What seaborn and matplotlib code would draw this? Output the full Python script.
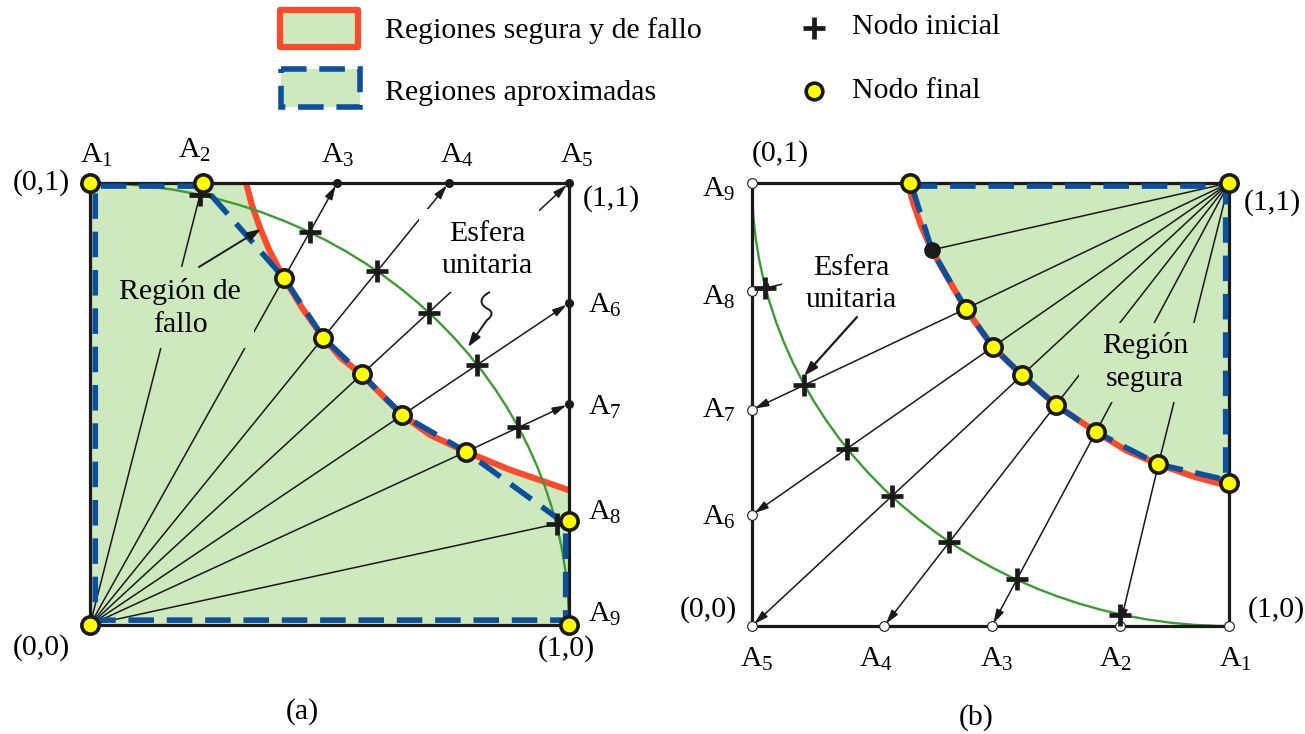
import matplotlib
matplotlib.use("Agg")
import matplotlib.pyplot as plt
from matplotlib.patches import Polygon, Rectangle, Arc, PathPatch
from matplotlib.path import Path
import seaborn as sns

sns.set_theme(style="white")
plt.rcParams["font.family"] = ["Liberation Serif", "DejaVu Serif"]
plt.rcParams["mathtext.fontset"] = "custom"
plt.rcParams["mathtext.rm"] = "Liberation Serif"
plt.rcParams["mathtext.it"] = "Liberation Serif:italic"

# ---------------- panel (a): failure region around the origin ----------------
a_target_u = [0.0, 0.236, 0.516, 0.749, 1.0, 1.0, 1.0, 1.0, 1.0]
a_target_v = [1.0, 1.0, 1.0, 1.0, 1.0, 0.728, 0.500, 0.235, 0.0]
a_final_u = [0.0, 0.236, 0.405, 0.487, 0.567, 0.652, 0.785, 1.0, 1.0]
a_final_v = [1.0, 1.0, 0.785, 0.650, 0.567, 0.475, 0.392, 0.235, 0.0]
a_has_arrow = [False, False, True, True, True, True, True, False, False]
a_init_u = [0.230, 0.459, 0.600, 0.707, 0.808, 0.894, 0.974]
a_init_v = [0.973, 0.889, 0.800, 0.707, 0.588, 0.447, 0.229]
a_limit_u = [0.326, 0.338, 0.355, 0.376, 0.405, 0.443, 0.487, 0.524, 0.567,
             0.608, 0.652, 0.710, 0.785, 0.877, 1.0]
a_limit_v = [1.0, 0.950, 0.898, 0.844, 0.785, 0.717, 0.650, 0.604, 0.567,
             0.522, 0.475, 0.430, 0.392, 0.351, 0.305]
a_approx_u = [0.236, 0.011, 0.011, 0.993, 0.993, 0.973, 0.785, 0.652, 0.567,
              0.487, 0.405, 0.236]
a_approx_v = [0.993, 0.993, 0.011, 0.011, 0.225, 0.244, 0.392, 0.475, 0.567,
              0.650, 0.785, 0.993]
a_labels = ["A$_{1}$", "A$_{2}$", "A$_{3}$", "A$_{4}$", "A$_{5}$",
            "A$_{6}$", "A$_{7}$", "A$_{8}$", "A$_{9}$"]

# ---------------- panel (b): safe region around the corner (1,1) --------------
b_target_u = [1.0, 0.771, 0.503, 0.277, 0.0, 0.0, 0.0, 0.0, 0.0]
b_target_v = [0.0, 0.0, 0.0, 0.0, 0.0, 0.251, 0.488, 0.756, 1.0]
b_final_u = [1.0, 0.852, 0.721, 0.637, 0.566, 0.505, 0.448, 0.377, 0.331]
b_final_v = [0.323, 0.365, 0.438, 0.499, 0.566, 0.630, 0.716, 0.849, 1.0]
b_final_yellow = [True, True, True, True, True, True, True, False, True]
b_has_arrow = [False, True, True, True, True, True, True, True, False]
b_init_u = [0.772, 0.555, 0.414, 0.293, 0.200, 0.110, 0.027]
b_init_v = [0.025, 0.105, 0.190, 0.293, 0.400, 0.544, 0.763]
b_limit_u = [0.327, 0.338, 0.354, 0.377, 0.410, 0.448, 0.505, 0.566, 0.637,
             0.721, 0.785, 0.852, 0.930, 1.0]
b_limit_v = [1.0, 0.955, 0.905, 0.849, 0.786, 0.716, 0.630, 0.566, 0.499,
             0.438, 0.396, 0.365, 0.336, 0.316]
b_approx_u = [0.335, 0.993, 0.993, 0.852, 0.721, 0.637, 0.566, 0.505, 0.448,
              0.377, 0.335]
b_approx_v = [0.993, 0.993, 0.330, 0.365, 0.438, 0.499, 0.566, 0.630, 0.716,
              0.849, 0.993]
b_labels = ["A$_{1}$", "A$_{2}$", "A$_{3}$", "A$_{4}$", "A$_{5}$",
            "A$_{6}$", "A$_{7}$", "A$_{8}$", "A$_{9}$"]

FILL = "#cde9bd"
RED = "#fc4a2c"
BLUE = "#0c4f9d"
SPHERE = "#3d9b33"
YELLOW = "#ffff00"
INK = "black"
FS = 21.5
LW_RAY = 1.1

W, H = 1305, 734
fig = plt.figure(figsize=(W / 100, H / 100), dpi=100)
fig.patch.set_facecolor("white")
axA = fig.add_axes([90 / W, 109 / H, 479 / W, 442 / H])
axB = fig.add_axes([752 / W, 108 / H, 477 / W, 443 / H])
for ax in (axA, axB):
    ax.set_xlim(0, 1)
    ax.set_ylim(0, 1)
    ax.axis("off")


def pix_a(x, y):
    return (x - 90) / 479, (625 - y) / 442


def pix_b(x, y):
    return (x - 752) / 477, (626 - y) / 443


def rays(ax, pole, fu, fv, tu, tv, arrows):
    for x1, y1, x2, y2, arr in zip(fu, fv, tu, tv, arrows):
        ax.plot([pole[0], x1], [pole[1], y1], color="k", lw=LW_RAY,
                zorder=2, clip_on=False, solid_capstyle="butt")
        if arr:
            ax.annotate("", xy=(x2, y2), xytext=(x1, y1), zorder=2,
                        annotation_clip=False,
                        arrowprops=dict(arrowstyle="-|>,head_length=0.6,head_width=0.17",
                                        color="k", lw=LW_RAY, shrinkA=0, shrinkB=2,
                                        mutation_scale=14))


def curves(ax, lu, lv, au, av):
    sns.lineplot(x=lu, y=lv, sort=False, estimator=None, ax=ax, color=RED,
                 lw=4.5, zorder=3, legend=False)
    ax.lines[-1].set_clip_on(False)
    ax.lines[-1].set_solid_capstyle("butt")
    ax.lines[-1].set_solid_joinstyle("round")
    ax.plot(au, av, color=BLUE, lw=4, ls=(0, (4.6, 2.3)), zorder=3.5,
            clip_on=False, dash_capstyle="butt")


def yellow_nodes(ax, u, v):
    sns.scatterplot(x=u, y=v, ax=ax, s=155, color=YELLOW, edgecolor="k",
                    linewidth=2.6, zorder=6, legend=False)
    ax.collections[-1].set_clip_on(False)


def crosses(ax, u, v):
    ax.plot(u, v, ls="none", marker="+", ms=15.5, mew=3.4, color="k",
            zorder=5.5, clip_on=False)


def border(ax):
    ax.add_patch(Rectangle((0, 0), 1, 1, fill=False, ec="k", lw=2.3,
                           zorder=3.2, clip_on=False))


def label(ax, xy, s, ha="center", va="center"):
    ax.text(xy[0], xy[1], s, fontsize=FS, ha=ha, va=va, zorder=8,
            color=INK, linespacing=1.32)


# ---------- panel (a) ----------
poly_a = list(zip(a_limit_u, a_limit_v)) + [(1, 0), (0, 0), (0, 1)]
axA.add_patch(Polygon(poly_a, closed=True, fc=FILL, ec="none", zorder=1))
axA.add_patch(Arc((0, 0), 2, 2, theta1=0, theta2=90, color=SPHERE, lw=1.7,
                  zorder=3.1))
rays(axA, (0, 0), a_final_u, a_final_v, a_target_u, a_target_v, a_has_arrow)
# text masks that interrupt the rays
x0, y0 = pix_a(110, 348); x1, y1 = pix_a(254, 267)
axA.add_patch(Rectangle((x0, y0), x1 - x0, y1 - y0, fc=FILL, ec="none", zorder=2.5))
x0, y0 = pix_a(419, 292); x1, y1 = pix_a(539, 209)
axA.add_patch(Rectangle((x0, y0), x1 - x0, y1 - y0, fc="white", ec="none", zorder=2.5))
curves(axA, a_limit_u, a_limit_v, a_approx_u, a_approx_v)
border(axA)
axA.plot(a_target_u[2:7], a_target_v[2:7], ls="none", marker="o", ms=5.5,
         color="k", zorder=5, clip_on=False)
crosses(axA, a_init_u, a_init_v)
yellow_nodes(axA, a_final_u + [0.0], a_final_v + [0.0])

a_lab_pix = [(80, 163), (178, 158), (321, 163), (440, 163), (560, 163),
             (588, 313), (588, 415), (588, 520), (588, 622)]
for (px, py), s in zip(a_lab_pix, a_labels):
    label(axA, pix_a(px, py), s, ha="left", va="baseline")
label(axA, pix_a(41, 183), "(0,1)")
label(axA, pix_a(611, 199), "(1,1)")
label(axA, pix_a(41, 648), "(0,0)")
label(axA, pix_a(566, 649), "(1,0)")
label(axA, pix_a(302, 712), "(a)")
label(axA, pix_a(180, 308), "Región de\nfallo")
label(axA, pix_a(487, 250), "Esfera\nunitaria")
axA.annotate("", xy=pix_a(261, 229), xytext=pix_a(199, 267), zorder=4,
             annotation_clip=False,
             arrowprops=dict(arrowstyle="-|>,head_length=0.6,head_width=0.2",
                             color="k", lw=1.4, shrinkA=0, shrinkB=0,
                             mutation_scale=14))
sq = [pix_a(*p) for p in [(490, 292), (478, 298), (480, 305), (488, 309),
                           (495, 313), (490, 318), (487, 320)]]
axA.add_patch(PathPatch(Path(sq, [Path.MOVETO, Path.CURVE4, Path.CURVE4,
                                  Path.CURVE4, Path.CURVE4, Path.CURVE4,
                                  Path.CURVE4]),
                        fc="none", ec="k", lw=1.4, zorder=4, clip_on=False))
axA.annotate("", xy=pix_a(468, 347), xytext=pix_a(487, 320), zorder=4,
             annotation_clip=False,
             arrowprops=dict(arrowstyle="-|>,head_length=0.6,head_width=0.2",
                             color="k", lw=1.4, shrinkA=0, shrinkB=0,
                             mutation_scale=14))

# ---------- panel (b) ----------
poly_b = list(zip(b_limit_u, b_limit_v)) + [(1, 1)]
axB.add_patch(Polygon(poly_b, closed=True, fc=FILL, ec="none", zorder=1))
axB.add_patch(Arc((1, 1), 2, 2, theta1=180, theta2=270, color=SPHERE, lw=1.7,
                  zorder=3.1))
rays(axB, (1, 1), b_final_u, b_final_v, b_target_u, b_target_v, b_has_arrow)
x0, y0 = pix_b(1079, 402); x1, y1 = pix_b(1207, 323)
axB.add_patch(Rectangle((x0, y0), x1 - x0, y1 - y0, fc=FILL, ec="none", zorder=2.5))
x0, y0 = pix_b(782, 322); x1, y1 = pix_b(925, 232)
axB.add_patch(Rectangle((x0, y0), x1 - x0, y1 - y0, fc="white", ec="none", zorder=2.5))
curves(axB, b_limit_u, b_limit_v, b_approx_u, b_approx_v)
border(axB)
axB.plot(b_target_u, b_target_v, ls="none", marker="o", ms=7, mfc="white",
         mec="k", mew=0.8, zorder=5, clip_on=False)
crosses(axB, b_init_u, b_init_v)
yu = [u for u, k in zip(b_final_u, b_final_yellow) if k] + [1.0]
yv = [v for v, k in zip(b_final_v, b_final_yellow) if k] + [1.0]
yellow_nodes(axB, yu, yv)
bu = [u for u, k in zip(b_final_u, b_final_yellow) if not k]
bv = [v for v, k in zip(b_final_v, b_final_yellow) if not k]
axB.plot(bu, bv, ls="none", marker="o", ms=11, color="k", zorder=6,
         clip_on=False)

b_lab_pix = [(1219, 667), (1099, 667), (980, 667), (859, 667), (740, 667),
             (702, 525), (702, 418), (702, 305), (702, 197)]
for (px, py), s in zip(b_lab_pix, b_labels):
    label(axB, pix_b(px, py), s, ha="left", va="baseline")
label(axB, pix_b(780, 154), "(0,1)")
label(axB, pix_b(1272, 203), "(1,1)")
label(axB, pix_b(708, 610), "(0,0)")
label(axB, pix_b(1276, 610), "(1,0)")
label(axB, pix_b(976, 718), "(b)")
label(axB, pix_b(1145, 362), "Región\nsegura")
label(axB, pix_b(851, 284), "Esfera\nunitaria")
axB.annotate("", xy=pix_b(804, 376), xytext=pix_b(857, 317), zorder=4,
             annotation_clip=False,
             arrowprops=dict(arrowstyle="-|>,head_length=0.6,head_width=0.2",
                             color="k", lw=1.6, shrinkA=0, shrinkB=0,
                             mutation_scale=14))

# ---------- legend ----------
lg = fig.add_axes([0, 0, 1, 1])
lg.set_xlim(0, W)
lg.set_ylim(H, 0)
lg.axis("off")
lg.add_patch(Rectangle((280, 10), 78, 37, fc=FILL, ec=RED, lw=4.5,
                       joinstyle="round"))
lg.add_patch(Rectangle((281, 69), 79, 38, fc=FILL, ec=BLUE, lw=4,
                       ls=(0, (4.6, 2.3))))
lg.text(385, 31, "Regiones segura y de fallo", fontsize=FS, va="center",
        ha="left", color=INK)
lg.text(385, 93, "Regiones aproximadas", fontsize=FS, va="center",
        ha="left", color=INK)
lg.plot([814], [28], ls="none", marker="+", ms=15.5, mew=3.4, color="k")
lg.plot([814], [91], ls="none", marker="o", ms=12, mfc=YELLOW, mec="k", mew=2.6)
lg.text(852, 27, "Nodo inicial", fontsize=FS, va="center", ha="left",
        color=INK)
lg.text(852, 91, "Nodo final", fontsize=FS, va="center", ha="left",
        color=INK)

fig.savefig("out.png", dpi=100, facecolor="white")
